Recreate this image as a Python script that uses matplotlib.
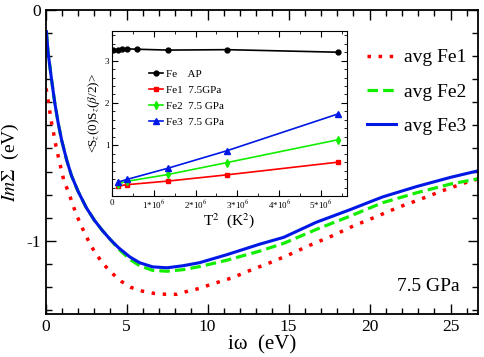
import numpy as np
import matplotlib
matplotlib.use("Agg")
import matplotlib.pyplot as plt
from matplotlib.ticker import MultipleLocator

plt.rcParams["font.family"] = ["Liberation Serif", "DejaVu Serif"]
plt.rcParams["mathtext.fontset"] = "stix"
plt.rcParams["axes.unicode_minus"] = False

# main panel: Im Sigma(i omega), 7.5 GPa
w_fe1 = [0.03, 0.15, 0.37, 0.51, 0.64, 0.80, 0.96, 1.13, 1.40, 1.64, 1.87, 2.16, 2.47, 2.80,
         3.19, 3.62, 4.11, 4.65, 5.27, 5.96, 6.69, 7.43, 8.12, 8.80, 9.52, 10.2, 10.86,
         11.58, 12.24, 12.92, 13.64, 14.98, 16.32, 17.65, 18.99, 20.39, 21.77, 23.1,
         24.5, 25.88, 26.8]
s_fe1 = [-0.34, -0.39, -0.49, -0.54, -0.59, -0.64, -0.69, -0.74, -0.787, -0.835, -0.881,
         -0.929, -0.975, -1.022, -1.065, -1.105, -1.141, -1.175, -1.202, -1.218, -1.228,
         -1.232, -1.232, -1.218, -1.206, -1.189, -1.175, -1.159, -1.139, -1.12, -1.101,
         -1.062, -1.019, -0.98, -0.936, -0.896, -0.855, -0.821, -0.783, -0.749, -0.73]

w_fe2 = [0.05, 0.16, 0.37, 0.57, 0.78, 0.99, 1.3, 1.6, 2.0, 2.5, 3.0, 3.5, 4.0, 4.5, 5.2,
         5.8, 6.6, 7.5, 8.5, 9.5, 11.2, 13.2, 14.7, 16.7, 18.8, 20.8, 22.9, 25.0, 26.8]
s_fe2 = [-0.094, -0.188, -0.303, -0.404, -0.491, -0.564, -0.65, -0.718, -0.785, -0.855,
         -0.91, -0.955, -0.995, -1.035, -1.08, -1.108, -1.128, -1.132, -1.125, -1.112,
         -1.084, -1.045, -1.011, -0.951, -0.893, -0.835, -0.792, -0.754, -0.73]

w_fe3 = [0.05, 0.16, 0.37, 0.57, 0.78, 0.99, 1.3, 1.6, 2.0, 2.5, 3.0, 3.5, 4.0, 4.5, 5.2,
         5.8, 6.6, 7.5, 8.5, 9.5, 11.2, 13.2, 14.7, 16.7, 18.8, 20.8, 22.9, 25.0, 26.8]
s_fe3 = [-0.094, -0.188, -0.303, -0.404, -0.491, -0.564, -0.65, -0.718, -0.785, -0.855,
         -0.91, -0.955, -0.995, -1.03, -1.07, -1.095, -1.113, -1.117, -1.108, -1.095,
         -1.06, -1.015, -0.985, -0.92, -0.865, -0.81, -0.765, -0.725, -0.695]

# inset: spin correlator vs T^2
t2_ap = [0.03e6, 0.15e6, 0.23e6, 0.35e6, 0.6e6, 1.35e6, 2.75e6, 5.41e6]
corr_ap = [3.26, 3.25, 3.27, 3.28, 3.27, 3.25, 3.26, 3.20]
t2 = [0.15e6, 0.35e6, 1.35e6, 2.75e6, 5.41e6]
corr_fe1 = [0.035, 0.067, 0.154, 0.30, 0.60]
corr_fe2 = [0.09, 0.146, 0.31, 0.59, 1.13]
corr_fe3 = [0.13, 0.19, 0.46, 0.87, 1.74]


def main():
    fig = plt.figure(figsize=(4.85, 3.57), dpi=100)
    ax = fig.add_axes([0.094, 0.12, 0.892, 0.852])

    ax.plot(w_fe1, s_fe1, color="red", lw=2.5, linestyle=(0, (1, 2.2)),
            dash_capstyle="butt", label="avg Fe1")
    ax.plot(w_fe2, s_fe2, color="#11ee00", lw=2.3, linestyle=(0, (3.3, 1.6)),
            label="avg Fe2")
    ax.plot(w_fe3, s_fe3, color="#0018e6", lw=2.2, label="avg Fe3")

    ax.set_xlim(0, 26.7)
    ax.set_ylim(-1.318, 0)
    ax.xaxis.set_major_locator(MultipleLocator(5))
    ax.xaxis.set_minor_locator(MultipleLocator(1))
    ax.yaxis.set_major_locator(MultipleLocator(1))
    ax.yaxis.set_minor_locator(MultipleLocator(0.1))
    ax.tick_params(which="both", direction="in", top=True, right=True, labelsize=12.5)
    ax.tick_params(which="major", length=7, width=1)
    ax.tick_params(which="minor", length=4, width=1)
    for sp in ax.spines.values():
        sp.set_linewidth(1.3)
    ax.set_xticks([0, 5, 10, 15, 20, 25])
    ax.set_xlabel("iω  (eV)", fontsize=15, labelpad=0)
    ax.set_ylabel(r"$Im\Sigma$  (eV)", fontsize=14, labelpad=4)
    ax.text(21.7, -1.2, "7.5 GPa", fontsize=14, va="center")

    ax.legend(loc="upper left", bbox_to_anchor=(0.703, 0.93), frameon=False, fontsize=14,
              handlelength=1.5, handletextpad=0.4, labelspacing=0.85)

    # inset
    ins = fig.add_axes([0.231, 0.451, 0.484, 0.462])
    ins.plot(t2_ap, corr_ap, color="black", marker="o", ms=3.5, lw=1.2, label="Fe    AP")
    ins.plot(t2, corr_fe1, color="red", marker="s", ms=3.2, lw=1.2, label="Fe1  7.5GPa")
    ins.plot(t2, corr_fe2, color="#11ee00", marker="d", ms=3.8, lw=1.2, label="Fe2  7.5 GPa")
    ins.plot(t2, corr_fe3, color="#0018e6", marker="^", ms=3.8, lw=1.2, label="Fe3  7.5 GPa")
    ins.set_xlim(0, 5.62e6)
    ins.set_ylim(-0.2, 3.7)
    ins.set_yticks([1, 2, 3])
    ins.yaxis.set_minor_locator(MultipleLocator(0.2))
    ins.set_xticks([0, 1e6, 2e6, 3e6, 4e6, 5e6])
    ins.set_xticklabels(["0", r"1*10$^6$", r"2*10$^6$", r"3*10$^6$", r"4*10$^6$", r"5*10$^6$"])
    ins.xaxis.set_minor_locator(MultipleLocator(0.5e6))
    ins.tick_params(which="both", direction="in", top=True, right=True, labelsize=6.5, pad=2)
    ins.tick_params(which="major", length=4)
    ins.tick_params(which="minor", length=2)
    ins.set_xlabel(r"T$^2$  (K$^2$)", fontsize=11, labelpad=0)
    ins.set_ylabel(r"<S$_z$(0)S$_z$($\beta$/2)>", fontsize=9.5, labelpad=2)
    ins.legend(loc="upper left", bbox_to_anchor=(0.117, 0.83), frameon=False, fontsize=8,
               handlelength=1.2, handletextpad=0.25, labelspacing=0.55)

    fig.savefig("out.png", dpi=100)


if __name__ == "__main__":
    main()
